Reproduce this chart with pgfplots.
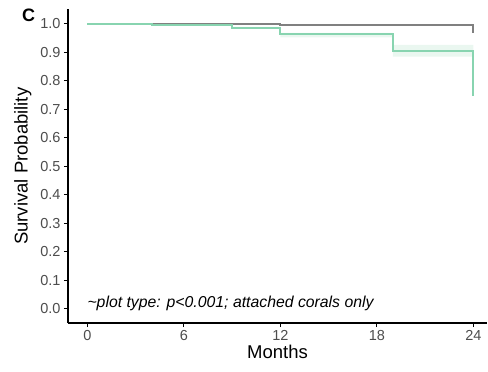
\documentclass[border=0pt]{standalone}
\usepackage{pgfplots}
\pgfplotsset{compat=1.18}
\usepackage{fontspec}
\setmainfont{Liberation Sans}
\setsansfont{Liberation Sans}
\definecolor{kmgreen}{RGB}{136,212,176}
\definecolor{kmband}{RGB}{234,247,240}
\definecolor{kmgray}{RGB}{128,128,128}
\definecolor{ticktext}{RGB}{77,77,77}
\begin{document}
\begin{tikzpicture}
\begin{axis}[
  scale only axis,
  width=419bp, height=313.5bp,
  xmin=-1.2, xmax=24.85,
  ymin=-0.05, ymax=1.05,
  axis x line*=bottom, axis y line*=left,
  axis line style={black, line width=1.1pt, -},
  xtick={0,6,12,18,24},
  ytick={0,0.1,0.2,0.3,0.4,0.5,0.6,0.7,0.8,0.9,1.0},
  yticklabel style={/pgf/number format/.cd, fixed, fixed zerofill, precision=1},
  /pgf/number format/assume math mode=true,
  tick label style={font=\fontsize{14.5bp}{16bp}\selectfont, text=ticktext},
  tick style={black, line width=0.9pt},
  tick align=outside,
  major tick length=4bp,
  xlabel={Months}, ylabel={Survival Probability},
  label style={font=\fontsize{18.5bp}{20bp}\selectfont},
  xlabel style={at={(axis description cs:0.5,0)}, anchor=north, yshift=-19bp},
  ylabel style={at={(axis description cs:0,0.5)}, anchor=south, yshift=33bp},
  clip=false,
]
% green confidence band
\addplot[fill=kmband, draw=none] coordinates {
  (9,0.989) (12,0.989) (12,0.968) (19,0.968) (19,0.926) (24,0.926)
  (24,0.885) (19,0.885) (19,0.952) (12,0.952) (12,0.983) (9,0.983)
} -- cycle;
% gray curve
\addplot[const plot, draw=kmgray, line width=2pt] coordinates {
  (0,1.0) (12,0.997) (19,0.995) (24,0.967) (24,0.967)
};
% green curve
\addplot[const plot, draw=kmgreen, line width=2pt] coordinates {
  (0,1.0) (4,0.994) (9,0.986) (12,0.964) (19,0.906) (24,0.745) (24,0.745)
};
\node[anchor=base west, font=\itshape\fontsize{15.8bp}{17bp}\selectfont, inner sep=0pt]
  at (axis cs:0,0.005) {\textasciitilde plot type: p<0.001; attached corals only};
\end{axis}
\node[anchor=north west, font=\bfseries\fontsize{18bp}{20bp}\selectfont, inner sep=0pt] at (-46bp,314bp) {C};
\path[use as bounding box] (-68bp,-49bp) rectangle (420bp,323bp);
\end{tikzpicture}
\end{document}
